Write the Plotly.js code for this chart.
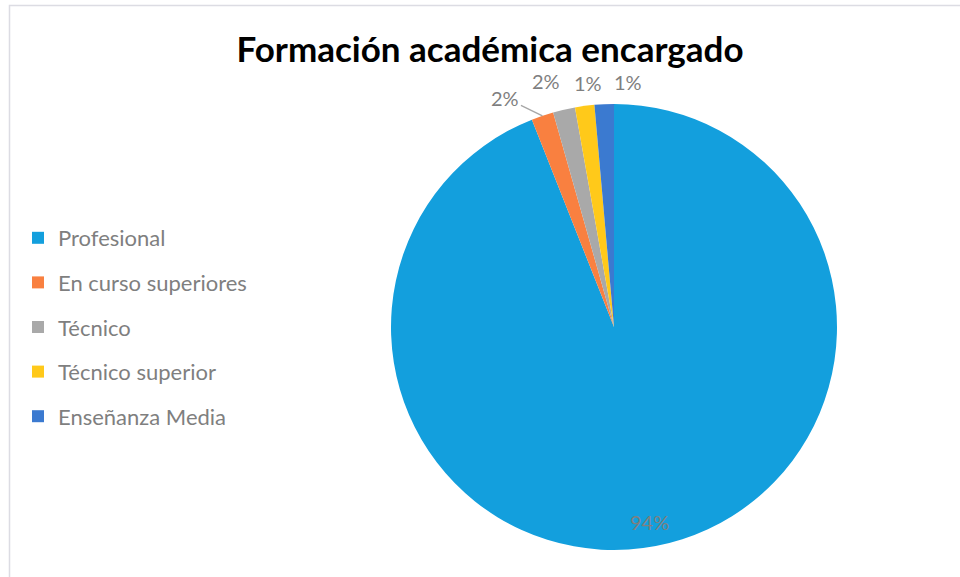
<!DOCTYPE html>
<html>
<head>
<meta charset="utf-8">
<script src="https://cdn.plot.ly/plotly-3.0.1.min.js"></script>
<style>html,body{margin:0;padding:0;background:#fff;}#chart{width:960px;height:577px;}</style>
</head>
<body>
<div id="chart"></div>
<script>
const categories = ["Profesional", "En curso superiores", "Técnico", "Técnico superior", "Enseñanza Media"];
const values = [94.0, 1.6, 1.6, 1.4, 1.4];
const colors = ["#139fdd", "#f98040", "#a9a9a9", "#ffc91a", "#3b7ad0"];
const titleText = "Formación académica encargado";
// label placement style: pixel offset of each label from its slice's outer edge
const labelOffsets = [[-6, -24], [-37, -18], [-18, -29], [3, -23], [24, -22]];
const labelLeader = [false, true, false, false, false];

const W = 960, H = 577;
const font = "Lato, 'Open Sans', sans-serif";
const gray = "#7f7f7f";
const domX = [391 / W, 837 / W], domY = [1 - 550 / H, 1 - 104 / H];

const pie = {
  type: "pie",
  labels: categories,
  values: values,
  sort: false,
  direction: "clockwise",
  rotation: 0,
  marker: {colors: colors, line: {width: 0}},
  textinfo: "none",
  hoverinfo: "label+percent",
  showlegend: false,
  automargin: false,
  domain: {x: domX, y: domY}
};

const legendTraces = categories.map((c, i) => ({
  type: "scatter", mode: "markers",
  x: [null], y: [null],
  name: c, legendgroup: "g" + i,
  marker: {symbol: "square", size: 13, color: colors[i]},
  showlegend: true, hoverinfo: "skip"
}));

// percentage labels positioned from each slice's mid-angle
const total = values.reduce((a, b) => a + b, 0);
const cx = (domX[0] + domX[1]) / 2 * W, cy = (1 - (domY[0] + domY[1]) / 2) * H;
const r = Math.min((domX[1] - domX[0]) * W, (domY[1] - domY[0]) * H) / 2;
let cum = 0;
const annotations = values.map((v, i) => {
  const mid = (cum + v / 2) / total * 2 * Math.PI;
  cum += v;
  const px = cx + r * Math.sin(mid), py = cy - r * Math.cos(mid);
  const txt = Math.round(v / total * 100) + "%";
  const [dx, dy] = labelOffsets[i];
  if (labelLeader[i]) {
    return {xref: "paper", yref: "paper", x: px / W, y: 1 - py / H, text: txt,
            showarrow: true, arrowhead: 0, arrowwidth: 1.3, arrowcolor: "#a6a6a6",
            ax: dx, ay: dy, standoff: 0, font: {family: font, size: 20, color: gray}};
  }
  return {xref: "paper", yref: "paper", x: (px + dx) / W, y: 1 - (py + dy) / H, text: txt,
          showarrow: false, xanchor: "center", yanchor: "middle",
          font: {family: font, size: 20, color: gray}};
});

const layout = {
  width: W, height: H,
  margin: {l: 0, r: 0, t: 0, b: 0},
  paper_bgcolor: "#ffffff", plot_bgcolor: "#ffffff",
  title: {text: "<b>" + titleText + "</b>", font: {family: font, size: 35, color: "#000000"},
          x: 490 / W, xanchor: "center", y: 1 - 50 / H, yanchor: "middle"},
  xaxis: {visible: false}, yaxis: {visible: false},
  showlegend: true,
  legend: {x: 18 / W, xanchor: "left", y: 1 - 217 / H, yanchor: "top",
           font: {family: font, size: 22, color: gray},
           traceorder: "grouped", tracegroupgap: 13, itemsizing: "constant",
           bgcolor: "rgba(0,0,0,0)"},
  annotations: annotations,
  shapes: [{type: "rect", xref: "paper", yref: "paper", x0: 9.5 / W, x1: 1.05, y0: -0.05, y1: 1 - 5.5 / H,
            line: {color: "#dcdce3", width: 1.5}, layer: "below"}]
};

Plotly.newPlot("chart", [pie].concat(legendTraces), layout, {displayModeBar: false, staticPlot: true});
</script>
</body>
</html>
